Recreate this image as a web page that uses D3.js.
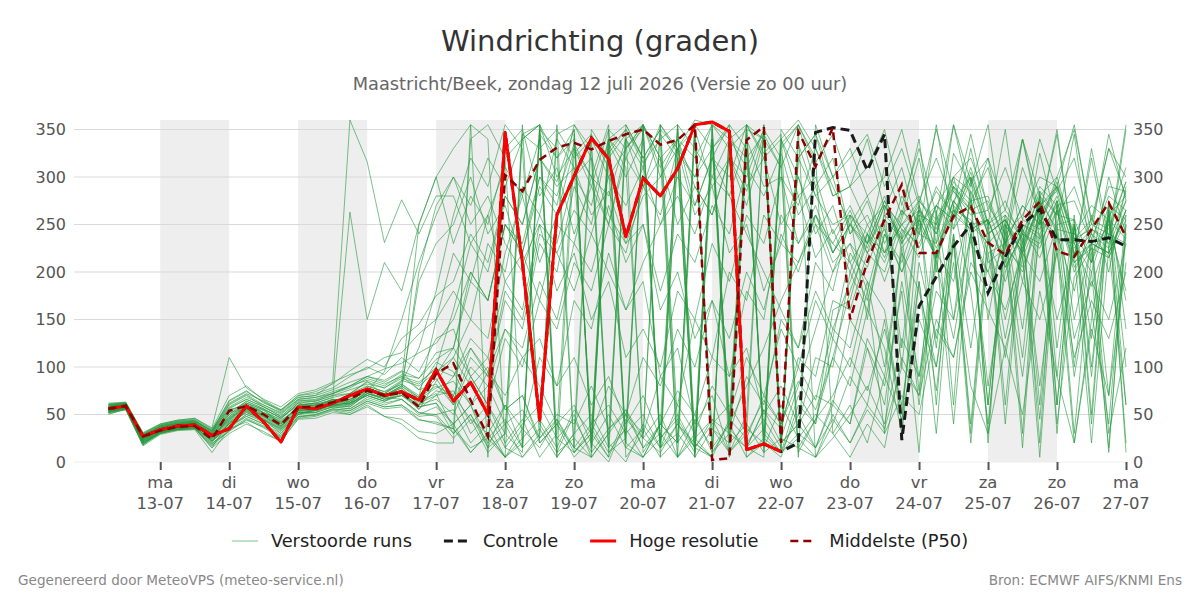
<!DOCTYPE html>
<html>
<head>
<meta charset="utf-8">
<title>Windrichting</title>
<script src="https://cdn.jsdelivr.net/npm/d3@7"></script>
<style>
    body { margin: 0; background: #fff; }
    svg text { font-family: "DejaVu Sans", sans-serif; }
</style>
</head>
<body>
<div id="chart"></div>
<script>

// Forecast times: 6-hourly from 12-07 06 UTC
const startTime = "2026-07-12T06:00:00Z";
const stepHours = 6;

// X axis tick labels (one per day)
const tickDays = ["ma", "di", "wo", "do", "vr", "za", "zo", "ma", "di", "wo", "do", "vr", "za", "zo", "ma"];
const tickDates = ["13-07", "14-07", "15-07", "16-07", "17-07", "18-07", "19-07", "20-07",
    "21-07", "22-07", "23-07", "24-07", "25-07", "26-07", "27-07"];
const shadedDays = ["2026-07-13", "2026-07-15", "2026-07-17", "2026-07-19", "2026-07-21", "2026-07-23", "2026-07-25"];
const yTicks = [0, 50, 100, 150, 200, 250, 300, 350];

// Hoge resolutie (ends 22-07 00)
const hogeResolutie = [56, 59, 27, 34, 38, 39, 28, 35, 59, 42, 21, 58, 56, 62, 70, 77, 70, 74, 65, 97,
    64, 84, 50, 347, 210, 44, 260, 301, 341, 319, 237, 299, 280, 309, 355, 358, 348, 13, 19, 11];

// Controle
const controle = [56, 59, 27, 34, 38, 39, 28, 35, 59, 42, 21, 58, 56, 62, 70, 77, 70, 74, 65, 97,
    64, 84, 50, 347, 210, 44, 260, 301, 341, 319, 237, 299, 280, 309, 355, 358, 348, 13, 19, 11,
    20, 347, 352, 349, 307, 345, 23, 164, 195, 227, 250, 178, 216, 250, 266, 234, 234, 232, 236, 227];

// Middelste (P50)
const middelste = [56, 59, 27, 33, 37, 38, 24, 54, 59, 50, 39, 58, 58, 63, 67, 75, 70, 73, 58, 93,
    104, 65, 27, 302, 285, 318, 331, 336, 329, 338, 345, 350, 334, 339, 355, 2, 4, 339, 353, 20,
    348, 311, 352, 150, 211, 255, 292, 220, 220, 259, 269, 231, 218, 255, 274, 222, 216, 245, 273, 237];

// Verstoorde runs (perturbed members)
const verstoordeRuns = [
    [52,58,22,33,36,38,25,48,62,55,40,60, 62,58,72,85,70,78,60,95,
     70,45,30,60,15,350,330,10,35,5,355,320,350,20,50,10,40,345,15,60,25,5,40,
     90,60,150,40,260,120,270,250,60,240,110,280,30,250,90,275,140],
    [58,60,28,36,40,41,30,55,60,52,45,62, 58,66,64,80,74,82,70,92,
     120,190,170,250,230,300,280,335,300,250,330,355,320,340,290,260,320,300,350,320,10,45,110,
     180,230,310,260,340,200,325,290,355,230,310,260,345,215,320,225,350],
    [55,57,20,30,35,36,15,42,52,45,30,52, 52,64,60,75,95,150,210,260,
     300,270,320,290,340,355,10,25,5,330,350,320,15,40,10,355,330,350,340,25,80,140,200,
     250,230,275,245,215,270,300,285,240,255,225,270,290,230,200,260,280],
    [60,62,25,38,42,44,32,60,70,58,50,65, 65,72,80,90,84,95,76,105,
     95,60,80,40,55,25,45,15,40,60,30,50,15,30,5,35,20,40,10,25,15,45,70,
     110,75,140,60,190,30,240,120,250,40,235,80,225,20,150,265,60],
    [50,56,18,32,34,37,22,38,48,40,28,50, 55,60,58,72,66,74,55,85,
     110,150,130,220,280,210,260,300,320,260,230,280,300,340,320,355,340,310,350,20,335,280,300,
     240,260,220,250,275,255,290,270,220,230,250,240,270,205,230,220,260],
    [62,63,30,40,44,46,35,70,80,65,55,70, 72,78,90,100,92,110,95,130,
     140,90,110,55,70,25,50,40,80,35,55,15,40,75,50,110,90,180,150,260,230,270,220,
     250,225,270,250,265,215,275,300,240,255,215,260,290,235,245,230,285],
    [54,58,24,34,37,40,26,46,58,48,38,55, 56,64,62,78,72,85,250,300,
     330,355,340,15,5,30,345,355,330,10,25,350,335,5,45,15,340,355,325,345,15,5,50,
     20,55,30,70,50,140,110,210,180,235,15,260,40,195,225,10,250],
    [57,59,26,35,39,39,28,52,56,50,42,58, 60,62,70,76,70,80,68,88,
     60,110,90,180,150,240,220,265,240,300,270,310,250,280,240,300,280,340,290,300,230,260,210,
     230,205,260,240,270,225,265,255,230,250,220,275,245,240,210,255,235],
    [53,57,21,31,35,36,20,32,45,36,25,47, 50,56,54,64,58,60,45,40,
     35,10,30,5,20,355,25,10,30,350,15,5,40,20,355,10,30,15,55,35,110,90,170,
     160,220,200,255,320,230,355,275,310,240,340,260,350,215,330,235,355],
    [59,61,27,37,41,43,33,65,75,62,55,68, 70,83,360,316,231,276,240,280,
     280,230,260,190,220,170,250,230,300,280,340,310,355,330,350,290,320,270,340,310,355,315,345,
     290,310,350,270,330,260,355,295,320,265,340,280,300,350,255,330,300],
    [56,58,25,34,38,38,27,44,60,54,44,56, 58,66,62,78,70,74,58,62,
     30,50,15,60,35,110,80,170,140,220,160,190,90,120,40,70,10,35,20,5,60,40,130,
     100,180,30,240,75,265,150,285,20,250,140,275,60,250,100,260,20],
    [51,55,17,29,33,34,10,35,42,30,22,46, 48,54,50,60,48,40,25,20,
     20,355,5,330,350,280,310,240,290,250,320,290,345,320,5,340,25,355,340,10,320,345,280,
     290,340,265,310,240,355,245,330,250,350,220,325,250,345,210,300,240],
    [58,61,29,37,40,42,31,58,68,60,52,66, 68,72,80,86,80,92,88,115,
     120,200,170,250,220,290,260,330,300,355,20,5,40,350,10,320,355,330,30,10,70,40,160,
     170,240,220,280,250,270,255,305,250,265,240,290,270,275,230,290,285],
    [55,60,23,33,37,39,24,40,54,46,36,54, 54,60,58,72,66,70,60,75,
     70,30,50,15,40,60,25,45,10,35,50,15,30,5,25,45,10,30,355,20,40,70,60,
     150,120,60,190,90,220,40,240,255,60,250,20,275,100,235,30,120],
    [61,62,30,39,43,45,34,62,72,64,54,70, 74,82,96,108,100,130,145,175,
     190,240,210,280,250,320,290,310,260,285,230,250,180,240,210,270,240,310,280,325,260,290,220,
     250,220,270,235,255,215,265,245,255,205,240,230,265,210,230,220,265],
    [54,57,22,32,36,37,22,36,50,42,32,52, 52,58,56,66,60,66,50,58,
     40,60,15,30,345,355,320,340,20,0,45,25,50,5,30,340,5,330,25,10,50,15,65,
     40,120,80,180,10,260,60,300,150,255,30,285,120,260,50,270,100],
    [57,59,27,35,39,40,29,50,64,56,46,60, 62,68,263,150,210,180,250,300,
     230,280,250,320,340,355,300,330,290,350,330,355,310,340,270,320,300,355,320,340,280,300,240,
     270,230,255,235,275,250,285,260,265,220,255,245,280,225,245,235,275],
    [52,56,19,31,34,35,18,34,46,38,27,48, 50,56,54,64,58,60,48,50,
     55,20,40,5,35,15,45,10,30,5,50,30,90,60,150,110,200,170,260,230,300,240,270,
     210,240,190,245,230,270,245,275,210,225,205,255,235,230,185,240,230],
    [60,61,28,38,41,43,33,56,66,58,48,64, 66,72,78,88,82,90,76,82,
     60,100,80,140,120,190,150,230,200,270,210,250,160,200,130,170,90,120,50,80,40,110,100,
     200,160,240,210,265,240,290,265,275,230,270,250,295,230,250,240,295],
    [56,59,24,34,38,40,27,45,57,48,39,56, 57,62,66,75,70,78,64,72,
     35,340,355,320,15,350,5,325,345,310,20,355,5,330,360,355,40,5,20,335,355,320,30,
     5,40,15,110,70,220,190,275,30,250,220,5,250,255,40,265,10],
    [53,56,20,31,35,37,21,40,52,44,34,50, 55,62,60,74,66,70,56,70,
     90,130,110,190,160,250,230,300,270,340,320,355,300,330,260,290,220,250,180,230,210,260,230,
     265,220,245,200,240,230,275,250,255,205,240,225,275,210,225,215,265],
    [59,60,26,36,40,42,30,54,62,55,47,60, 62,68,72,80,74,86,80,95,
     110,80,100,55,70,20,40,5,25,340,355,320,350,330,10,350,35,15,55,20,40,15,60,
     40,130,90,220,180,100,235,40,240,130,225,275,60,250,160,40,250],
    [55,58,24,33,37,38,26,42,55,50,38,54, 56,62,66,74,70,80,190,230,
     250,300,240,270,210,250,180,220,150,190,110,140,100,180,150,230,190,260,230,300,270,330,280,
     290,250,270,230,265,245,295,275,280,230,270,250,300,235,255,245,295],
    [57,58,25,35,39,40,28,48,60,52,43,58, 60,64,66,76,68,66,52,50,
     30,50,20,40,5,25,355,15,340,20,0,40,15,60,30,80,50,110,70,140,100,170,130,
     220,190,100,225,60,210,130,240,80,200,245,60,270,150,230,70,260],
    [54,57,21,32,36,37,23,38,50,44,33,51, 54,60,62,70,64,74,68,80,
     70,120,90,170,140,230,200,290,250,340,310,25,355,40,15,5,350,290,320,250,280,215,245,
     200,250,215,265,245,285,260,300,245,260,235,280,260,255,210,270,255],
    [60,63,31,40,44,46,36,110,78,66,58,72, 76,84,92,98,110,115,135,150,
     180,150,230,200,290,260,340,310,40,10,35,355,20,320,5,340,45,355,20,330,355,290,320,
     240,275,220,250,225,270,255,295,240,255,220,270,285,220,240,225,275],
    [52,56,18,30,34,35,15,30,40,32,22,45, 46,52,50,58,48,45,32,30,
     40,10,30,5,25,45,15,55,30,80,50,110,80,140,100,170,130,200,160,240,200,260,220,
     260,150,265,100,270,60,270,180,40,215,90,240,150,220,20,225,60],
    [58,60,27,36,40,41,30,52,64,56,46,62, 64,70,76,82,78,90,84,98,
     90,120,95,140,110,130,80,110,60,90,40,70,25,50,15,45,30,90,60,150,120,210,180,
     260,230,275,225,250,215,260,245,255,210,250,235,275,215,230,220,265],
    [56,59,25,34,38,39,27,46,58,50,40,57, 58,64,70,76,72,84,120,180,
     260,320,290,355,330,40,10,50,5,30,340,355,320,5,340,35,10,50,355,20,320,345,300,
     320,345,290,330,270,350,285,265,320,225,340,250,290,355,250,330,280],
    [53,57,22,32,36,38,24,40,54,45,35,53, 55,60,62,70,64,70,58,62,
     40,60,25,45,15,35,5,30,50,15,35,5,25,45,15,40,60,30,65,40,85,55,110,
     80,160,120,30,190,75,230,20,220,110,215,45,245,90,200,15,240],
    [61,62,29,39,43,44,33,64,74,63,53,68, 70,76,84,90,98,104,115,125,
     150,200,170,250,220,300,270,355,320,15,340,290,320,250,290,260,320,285,345,310,5,355,300,
     330,280,300,350,275,320,270,345,265,310,255,340,285,320,240,345,275],
    [55,58,23,33,37,39,26,44,56,48,37,55, 57,62,64,72,68,74,62,70,
     75,40,60,20,45,5,30,345,10,325,350,315,340,355,20,5,45,25,70,40,100,65,140,
     120,190,160,50,210,130,240,30,235,150,230,270,90,250,130,255,170],
    [56,58,24,35,38,40,28,50,62,52,42,57, 60,66,64,78,72,82,68,150,
     220,190,260,310,280,340,5,30,350,320,345,10,40,20,355,330,350,15,5,340,300,250,200,
     230,180,250,120,270,210,290,240,60,230,200,255,240,30,220,250,180],
    [54,57,21,31,35,36,19,36,48,40,30,50, 52,58,56,68,62,66,52,48,
     25,45,10,30,355,20,40,15,5,30,55,25,10,40,20,5,350,15,35,10,25,50,30,
     60,20,90,45,150,100,210,80,30,120,50,180,90,20,140,70,210],
    [58,61,28,37,41,42,31,57,66,58,48,63, 64,70,72,84,78,88,82,100,
     160,230,200,280,250,320,295,350,15,335,300,340,20,355,330,300,340,5,25,350,320,280,250,
     260,240,280,230,260,250,300,320,270,240,260,300,290,240,270,255,310],
    [53,56,20,32,36,37,22,41,53,45,35,52, 54,58,60,70,64,72,60,66,
     50,90,60,130,100,170,140,210,180,250,220,290,260,330,300,355,20,350,10,340,360,330,290,
     250,280,230,265,240,290,260,310,250,275,230,285,260,290,235,280,265],
    [57,60,26,35,39,41,29,47,59,51,41,59, 61,65,68,76,70,80,66,78,
     85,60,95,70,110,80,40,60,20,50,15,35,5,25,350,15,40,80,120,170,210,250,230,
     210,170,240,200,255,220,275,250,230,190,245,215,265,200,240,215,255],
    [55,59,23,33,37,38,25,43,55,47,37,54, 56,60,62,72,68,76,200,270,
     300,250,280,230,200,260,220,180,240,200,160,210,250,300,270,320,280,240,200,160,120,180,140,
     190,240,210,260,280,240,300,230,200,260,190,280,240,180,260,200,290],
    [59,62,29,38,42,43,32,61,71,60,51,66, 68,74,80,90,86,96,88,108,
     120,90,60,30,10,345,320,350,15,340,5,30,355,325,300,330,355,20,45,15,350,5,25,
     50,80,40,130,90,180,150,240,200,160,220,190,250,130,190,150,230],
    [52,55,19,30,34,35,17,33,44,37,26,48, 49,55,52,62,56,58,44,42,
     35,15,25,5,345,330,350,320,340,300,330,350,15,355,25,5,340,320,345,10,30,15,45,
     20,60,35,100,70,150,110,200,160,120,190,150,220,110,170,130,200]
];

const legendLabels = ["Verstoorde runs", "Controle", "Hoge resolutie", "Middelste (P50)"];


class WindChart {

    constructor(parentElement) {
        this.parentElement = parentElement;
        this.initVis();
    }

    initVis() {
        let vis = this;

        // Drawing area
        vis.width = 1200;
        vis.height = 600;
        vis.margin = {top: 120, right: 74, bottom: 138, left: 74};

        vis.svg = d3.select("#" + vis.parentElement)
            .append("svg")
            .attr("width", vis.width)
            .attr("height", vis.height);

        vis.times = d3.range(controle.length)
            .map(i => d3.utcHour.offset(new Date(startTime), i * stepHours));

        vis.x = d3.scaleUtc()
            .domain([new Date("2026-07-11T18:00:00Z"), new Date("2026-07-27T00:00:00Z")])
            .range([vis.margin.left, vis.width - vis.margin.right]);

        vis.y = d3.scaleLinear()
            .domain([0, 360])
            .range([vis.height - vis.margin.bottom, vis.margin.top]);

        // Titles
        vis.svg.append("text")
            .attr("x", vis.width / 2)
            .attr("y", 51)
            .attr("text-anchor", "middle")
            .attr("font-size", 29)
            .attr("fill", "#333")
            .text("Windrichting (graden)");

        vis.svg.append("text")
            .attr("x", vis.width / 2)
            .attr("y", 90)
            .attr("text-anchor", "middle")
            .attr("font-size", 17.8)
            .attr("fill", "#666")
            .text("Maastricht/Beek, zondag 12 juli 2026 (Versie zo 00 uur)");

        // Shaded days
        vis.svg.append("g")
            .selectAll("rect")
            .data(shadedDays.map(d => new Date(d + "T00:00:00Z")))
            .join("rect")
            .attr("x", d => vis.x(d))
            .attr("width", d => vis.x(d3.utcDay.offset(d, 1)) - vis.x(d))
            .attr("y", vis.y(360))
            .attr("height", vis.y(0) - vis.y(360))
            .attr("fill", "#eeeeee");

        // Y grid
        vis.svg.append("g")
            .selectAll("line")
            .data(yTicks)
            .join("line")
            .attr("x1", vis.margin.left)
            .attr("x2", vis.width - vis.margin.right)
            .attr("y1", d => vis.y(d))
            .attr("y2", d => vis.y(d))
            .attr("stroke", d => d === 0 ? "#eeeeee" : "#d9d9d9")
            .attr("stroke-width", 1);

        // Y axes left and right
        let yLeft = vis.svg.append("g")
            .attr("transform", `translate(${vis.margin.left},0)`)
            .call(d3.axisLeft(vis.y).tickValues(yTicks).tickSize(0).tickPadding(8));
        let yRight = vis.svg.append("g")
            .attr("transform", `translate(${vis.width - vis.margin.right},0)`)
            .call(d3.axisRight(vis.y).tickValues(yTicks).tickSize(0).tickPadding(7));
        [yLeft, yRight].forEach(ax => {
            ax.select(".domain").remove();
            ax.selectAll("text")
                .attr("font-size", 16)
                .attr("fill", "#555")
                .style("font-family", "DejaVu Sans, sans-serif");
        });

        // X axis
        vis.tickTimes = tickDates.map((d, i) => d3.utcDay.offset(new Date("2026-07-13T00:00:00Z"), i));
        let xAxis = vis.svg.append("g")
            .attr("transform", `translate(0,${vis.y(0)})`)
            .call(d3.axisBottom(vis.x).tickValues(vis.tickTimes).tickSize(8).tickFormat(""));
        xAxis.select(".domain").remove();
        xAxis.selectAll(".tick line")
            .attr("stroke", "#555")
            .attr("stroke-width", 2);

        let xLabels = vis.svg.append("g")
            .selectAll("text")
            .data(vis.tickTimes)
            .join("text")
            .attr("text-anchor", "middle")
            .attr("font-size", 16.4)
            .attr("fill", "#555");
        xLabels.append("tspan")
            .attr("x", d => vis.x(d))
            .attr("y", 488)
            .text((d, i) => tickDays[i]);
        xLabels.append("tspan")
            .attr("x", d => vis.x(d))
            .attr("y", 509)
            .text((d, i) => tickDates[i]);

        vis.line = d3.line()
            .x((d, i) => vis.x(vis.times[i]))
            .y(d => vis.y(d));

        vis.updateVis();
        vis.drawLegend();
    }

    updateVis() {
        let vis = this;

        // Ensemble members
        vis.svg.append("g")
            .attr("fill", "none")
            .selectAll("path")
            .data(verstoordeRuns)
            .join("path")
            .attr("stroke", "#25983d")
            .attr("stroke-opacity", 0.6)
            .attr("stroke-width", 1)
            .attr("d", d => vis.line(d));

        // Control run
        vis.svg.append("path")
            .attr("fill", "none")
            .attr("stroke", "#1a1a1a")
            .attr("stroke-width", 3)
            .attr("stroke-dasharray", "9,5")
            .attr("d", vis.line(controle));

        // High resolution run
        vis.svg.append("path")
            .attr("fill", "none")
            .attr("stroke", "#ff0000")
            .attr("stroke-width", 3)
            .attr("stroke-linejoin", "round")
            .attr("d", vis.line(hogeResolutie));

        // Median
        vis.svg.append("path")
            .attr("fill", "none")
            .attr("stroke", "#8b0000")
            .attr("stroke-width", 2.5)
            .attr("stroke-dasharray", "8,5")
            .attr("d", vis.line(middelste));
    }

    drawLegend() {
        let vis = this;

        let styles = [
            {stroke: "#25983d", opacity: 0.6, width: 1, dash: null},
            {stroke: "#1a1a1a", opacity: 1, width: 3, dash: "9,5"},
            {stroke: "#ff0000", opacity: 1, width: 3, dash: null},
            {stroke: "#8b0000", opacity: 1, width: 2.5, dash: "8,5"}
        ];

        let legend = vis.svg.append("g");
        let items = legend.selectAll("g")
            .data(legendLabels)
            .join("g");

        items.append("line")
            .attr("x1", 0).attr("x2", 26)
            .attr("y1", 0).attr("y2", 0)
            .attr("stroke", (d, i) => styles[i].stroke)
            .attr("stroke-opacity", (d, i) => styles[i].opacity)
            .attr("stroke-width", (d, i) => styles[i].width)
            .attr("stroke-dasharray", (d, i) => styles[i].dash);

        items.append("text")
            .attr("x", 39)
            .attr("y", 6)
            .attr("font-size", 17.8)
            .attr("fill", "#222")
            .text(d => d);

        // Lay out items side by side, centred
        let offset = 0;
        let offsets = [];
        items.each(function () {
            offsets.push(offset);
            let w = 39 + d3.select(this).select("text").node().getComputedTextLength();
            offset += w + 32;
        });
        let total = offset - 32;
        let start = vis.width / 2 - total / 2;
        items.attr("transform", (d, i) => `translate(${start + offsets[i]},541)`);

        // Footer
        vis.svg.append("text")
            .attr("x", 18)
            .attr("y", 585)
            .attr("font-size", 13.6)
            .attr("fill", "#888")
            .text("Gegenereerd door MeteoVPS (meteo-service.nl)");

        vis.svg.append("text")
            .attr("x", 1182)
            .attr("y", 585)
            .attr("text-anchor", "end")
            .attr("font-size", 13.6)
            .attr("fill", "#888")
            .text("Bron: ECMWF AIFS/KNMI Ens");
    }
}

new WindChart("chart");
</script>
</body>
</html>
